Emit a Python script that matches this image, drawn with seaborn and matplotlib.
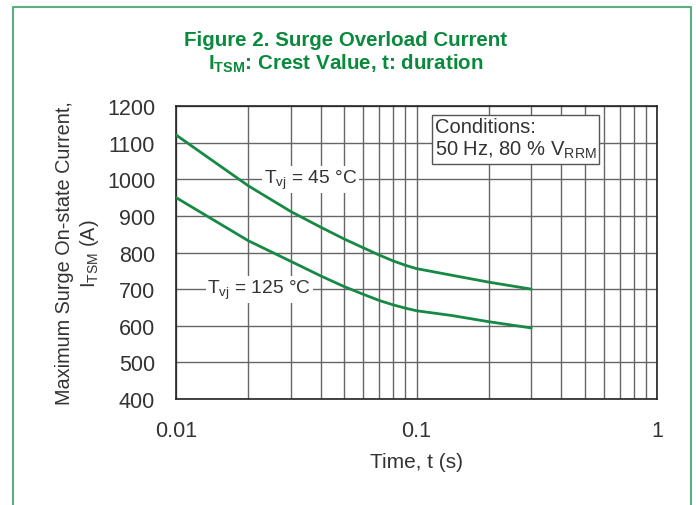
import matplotlib
matplotlib.use("Agg")
import matplotlib.pyplot as plt
import seaborn as sns
import pandas as pd

# ---- data ----
t_s = [0.01, 0.02, 0.03, 0.04, 0.05, 0.06, 0.07, 0.08, 0.09, 0.1, 0.14, 0.2, 0.3]
itsm_45 = [1121, 982, 912, 869, 837, 813, 793, 777, 765, 756, 738, 719, 700]
itsm_125 = [950, 832, 776, 736, 707, 686, 669, 657, 648, 641, 628, 611, 594]
x_ticks = [0.01, 0.1, 1]
x_tick_labels = ["0.01", "0.1", "1"]
y_ticks = [400, 500, 600, 700, 800, 900, 1000, 1100, 1200]

sns.set_theme(style="white")
FONT = ["Liberation Sans", "DejaVu Sans"]
plt.rcParams["font.family"] = FONT
plt.rcParams["mathtext.fontset"] = "custom"
plt.rcParams["mathtext.rm"] = "Liberation Sans"
plt.rcParams["mathtext.it"] = "Liberation Sans"
plt.rcParams["mathtext.bf"] = "Liberation Sans:bold"
plt.rcParams["mathtext.default"] = "regular"

GREEN = "#168a45"
TITLE_GREEN = "#0a8a3c"
FRAME_GREEN = "#5cae7c"
TXT = "#333333"

fig = plt.figure(figsize=(6.96, 5.06), dpi=100)
W, H = 696, 506
ax = fig.add_axes([176 / W, 1 - 400 / H, (657 - 176) / W, (400 - 107) / H])

df = pd.DataFrame({
    "t": t_s * 2,
    "I": itsm_45 + itsm_125,
    "Tvj": ["45"] * len(t_s) + ["125"] * len(t_s),
})
sns.lineplot(data=df, x="t", y="I", units="Tvj", estimator=None,
             color=GREEN, lw=2.0, ax=ax, zorder=5)

ax.set_xscale("log")
ax.set_xlim(0.01, 1)
ax.set_ylim(400, 1200)
ax.set_xticks(x_ticks)
ax.set_xticklabels(x_tick_labels)
ax.set_yticks(y_ticks)
ax.tick_params(axis="both", length=0, labelsize=15.5, colors=TXT, pad=15)

ax.grid(True, which="both", axis="x", color="#666666", lw=1.0)
ax.grid(True, which="major", axis="y", color="#666666", lw=1.0)
ax.set_axisbelow(True)
for s in ax.spines.values():
    s.set_visible(True)
    s.set_color("#222222")
    s.set_linewidth(1.2)

ax.set_xlabel("Time, t (s)", fontsize=15, color=TXT, labelpad=8)
ax.set_ylabel("Maximum Surge On-state Current,\n$I_{TSM}$ (A)", fontsize=14.3,
              color=TXT, labelpad=4, linespacing=1.25)

bb = dict(boxstyle="square,pad=0.1", fc="white", ec="none")
ax.text(0.0364, 1000, "$T_{vj}$ = 45 °C", fontsize=13.8, color=TXT,
        ha="center", va="center", bbox=bb, zorder=6)
ax.text(0.0222, 700, "$T_{vj}$ = 125 °C", fontsize=13.8, color=TXT,
        ha="center", va="center", bbox=bb, zorder=6)

ax.text(0.119, 1170, "Conditions:\n50 Hz, 80 % $V_{RRM}$", fontsize=14.5,
        color=TXT, ha="left", va="top", linespacing=1.2,
        bbox=dict(boxstyle="square,pad=0.15", fc="white", ec="#555555", lw=1.0),
        zorder=6)

fig.text(346 / W, 1 - 40 / H, "Figure 2. Surge Overload Current", fontsize=14.8,
         fontweight="bold", color=TITLE_GREEN, ha="center", va="center")
fig.text(346 / W, 1 - 64 / H, r"$\mathbf{I_{TSM}}$: Crest Value, t: duration",
         fontsize=14.8, fontweight="bold", color=TITLE_GREEN, ha="center", va="center")

# figure frame (open at bottom)
fig.add_artist(plt.Line2D([12.5 / W, 12.5 / W, 690.5 / W, 690.5 / W],
                          [0, 1 - 7.5 / H, 1 - 7.5 / H, 0],
                          transform=fig.transFigure, color=FRAME_GREEN, lw=1.5))

fig.savefig("out.png", dpi=100)
